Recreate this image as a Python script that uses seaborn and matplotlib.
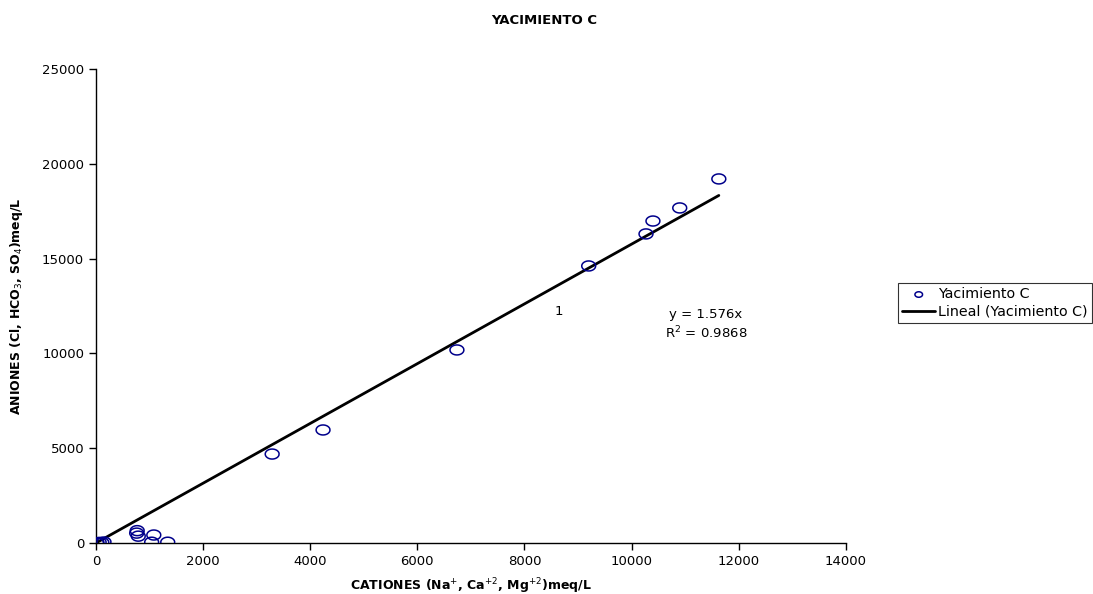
import numpy as np
import pandas as pd
import matplotlib
matplotlib.use('Agg')
import matplotlib.pyplot as plt
import seaborn as sns
from matplotlib.path import Path

# datos
cationes = [11630, 10900, 10400, 10270, 9200, 6740, 4240, 3290,
            770, 760, 790, 1080, 1040, 1340,
            20, 60, 110, 150, 10]
aniones = [19200, 17670, 16980, 16300, 14610, 10180, 5960, 4690,
           650, 520, 360, 420, 40, 40,
           10, 30, 20, 50, 0]
pendiente = 1.576
r2 = 0.9868

df = pd.DataFrame({'x': cationes, 'y': aniones})
x_fit = np.array([0, max(cationes)])
fit = pd.DataFrame({'x': x_fit, 'y': pendiente * x_fit})

sns.set_style('white')
plt.rcParams['font.family'] = ['DejaVu Sans']
plt.rcParams['text.color'] = 'black'
plt.rcParams['axes.labelcolor'] = 'black'
plt.rcParams['xtick.color'] = 'black'
plt.rcParams['ytick.color'] = 'black'

fig = plt.figure(figsize=(10.93, 5.94), dpi=100)
ax = fig.add_axes([0.0878, 0.0859, 0.686, 0.798])

# marcador eliptico como en Excel
t = np.linspace(0, 2 * np.pi, 40)
elipse = Path(np.column_stack([np.cos(t), 0.72 * np.sin(t)]))

sns.scatterplot(data=df, x='x', y='y', ax=ax, marker=elipse, s=100,
                facecolor='none', edgecolor='#00008B', linewidth=1.1,
                label='Yacimiento C', zorder=3)
sns.lineplot(data=fit, x='x', y='y', ax=ax, color='black', linewidth=2,
             label='Lineal (Yacimiento C)', zorder=2)

ax.set_xlim(0, 14000)
ax.set_ylim(0, 25000)
ax.set_xticks(range(0, 14001, 2000))
ax.set_yticks(range(0, 25001, 5000))
ax.tick_params(axis='both', direction='out', length=5, width=1, labelsize=9.5,
               left=True, bottom=True, color='black')
for s in ['top', 'right']:
    ax.spines[s].set_visible(False)
for s in ['left', 'bottom']:
    ax.spines[s].set_color('black')
    ax.spines[s].set_linewidth(1)

ax.set_xlabel('CATIONES (Na$^{+}$, Ca$^{+2}$, Mg$^{+2}$)meq/L',
              fontsize=9, fontweight='bold', labelpad=6)
ax.set_ylabel('ANIONES (Cl, HCO$_{3}$, SO$_{4}$)meq/L',
              fontsize=9, fontweight='bold', labelpad=12)
fig.text(0.4977, 0.966, 'YACIMIENTO C', ha='center', va='center',
         fontsize=9.5, fontweight='bold')

ax.text(11390, 11500, f'y = {pendiente}x\nR$^2$ = {r2}', fontsize=9.5,
        ha='center', va='center', multialignment='center', linespacing=1.3)
ax.text(8650, 12230, '1', fontsize=9.5, ha='center', va='center')

leg = ax.legend(loc='upper left', bbox_to_anchor=(0.8216, 0.5236),
                bbox_transform=fig.transFigure, fontsize=10.3, frameon=True,
                fancybox=False, borderpad=0.3, labelspacing=0.25,
                handlelength=2.3, handletextpad=0.2, borderaxespad=0,
                markerscale=0.55)
leg.get_frame().set_edgecolor('black')
leg.get_frame().set_linewidth(0.8)

fig.savefig('out.png', dpi=100)
